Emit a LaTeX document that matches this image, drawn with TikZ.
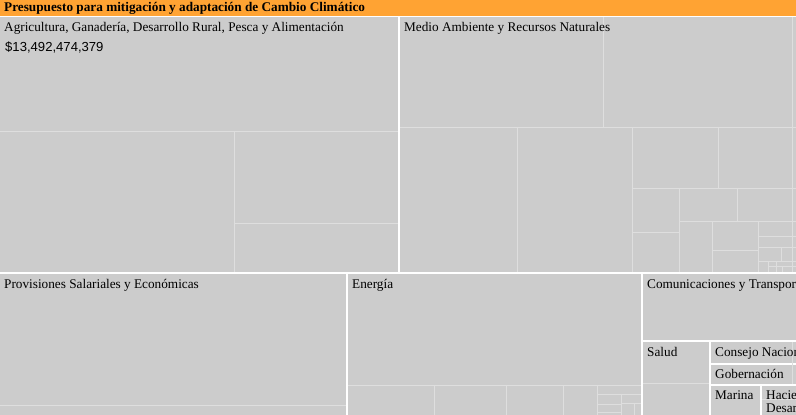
\documentclass[tikz,border=0pt]{standalone}
\usepackage{fontspec}
\setmainfont{Liberation Serif}
\newfontfamily\valfont{Liberation Sans}
\definecolor{cell}{HTML}{CCCCCC}
\definecolor{inner}{HTML}{DEDEDE}
\definecolor{hdr}{HTML}{FFA333}
\tikzset{
  cellbox/.style={fill=cell, draw=none},
  innerline/.style={draw=inner, line width=1pt},
  lbl/.style={anchor=base west, inner sep=0pt, font=\fontsize{13.25}{15}\selectfont, text=black},
  ttl/.style={anchor=base west, inner sep=0pt, font=\fontsize{13.25}{15}\selectfont\bfseries, text=black},
  val/.style={anchor=base west, inner sep=0pt, font=\valfont\fontsize{13.1}{16}\selectfont, text=black}
}
\begin{document}
\begin{tikzpicture}[x=1pt,y=-1pt]
\useasboundingbox (0,0) rectangle (796,415);
\clip (0,0) rectangle (796,415);
\fill[white] (0,0) rectangle (796,415);
% header
\fill[hdr] (0,0) rectangle (796,15.5);
\node[ttl] (title) at (4,12) {Presupuesto para mitigación y adaptación de Cambio Climático};
% top-level cells
\fill[cellbox] (0,17) rectangle (398,272);
\fill[cellbox] (400,17) rectangle (800,272);
\fill[cellbox] (0,274) rectangle (346,415);
\fill[cellbox] (348,274) rectangle (641,415);
\fill[cellbox] (643,274) rectangle (800,340);
\fill[cellbox] (643,342) rectangle (709,415);
\fill[cellbox] (711,342) rectangle (800,363);
\fill[cellbox] (711,365) rectangle (800,384);
\fill[cellbox] (711,386) rectangle (760,415);
\fill[cellbox] (762,386) rectangle (800,415);
% Agricultura inner
\draw[innerline] (0,131) -- (398,131);
\draw[innerline] (234.5,131) -- (234.5,272);
\draw[innerline] (235,223) -- (398,223);
% Medio Ambiente inner
\draw[innerline] (603.5,17) -- (603.5,127.5);
\draw[innerline] (400,127.5) -- (796,127.5);
\draw[innerline] (517.5,127.5) -- (517.5,272);
\draw[innerline] (632.5,127.5) -- (632.5,272);
\draw[innerline] (718.5,127.5) -- (718.5,188);
\draw[innerline] (633,188) -- (796,188);
\draw[innerline] (679,188) -- (679,272);
\draw[innerline] (633,232) -- (679,232);
\draw[innerline] (679,221) -- (796,221);
\draw[innerline] (737,188) -- (737,221);
\draw[innerline] (712,221) -- (712,272);
\draw[innerline] (758,221) -- (758,272);
\draw[innerline] (712,250) -- (758,250);
\draw[innerline] (758,236) -- (796,236);
\draw[innerline] (758,247) -- (796,247);
\draw[innerline] (781,247) -- (781,261);
\draw[innerline] (758,261) -- (796,261);
\draw[innerline] (768.5,261) -- (768.5,272);
\draw[innerline] (776,261) -- (776,272);
\draw[innerline] (782,266) -- (782,272);
\draw[innerline] (769,266) -- (796,266);
\draw[innerline] (792.5,17) -- (792.5,272);
% Provisiones inner
\draw[innerline] (0,405) -- (346,405);
% Energia inner
\draw[innerline] (348,385) -- (641,385);
\draw[innerline] (434,385) -- (434,415);
\draw[innerline] (506,385) -- (506,415);
\draw[innerline] (563,385) -- (563,415);
\draw[innerline] (597.5,385) -- (597.5,415);
\draw[innerline] (598,394.5) -- (641,394.5);
\draw[innerline] (621.5,394.5) -- (621.5,415);
\draw[innerline] (598,404) -- (621.5,404);
\draw[innerline] (622,403) -- (641,403);
\draw[innerline] (634,403) -- (634,415);
\draw[innerline] (598,412) -- (621.5,412);
% Salud inner
\draw[innerline] (643,383) -- (709,383);
% right column inner
\draw[innerline] (792.5,342) -- (792.5,384);
\draw[innerline] (762,399.5) -- (796,399.5);
% labels
\node[lbl] (agri) at (4,31) {Agricultura, Ganadería, Desarrollo Rural, Pesca y Alimentación};
\node[val] (agrival) at (5,51) {\$13,492,474,379};
\node[lbl] (medio) at (404,31) {Medio Ambiente y Recursos Naturales};
\node[lbl] (prov) at (4,288.5) {Provisiones Salariales y Económicas};
\node[lbl] (ener) at (352,288.5) {Energía};
\node[lbl] (comu) at (647,288.5) {Comunicaciones y Transportes};
\node[lbl] (salud) at (647,356) {Salud};
\node[lbl] (conse) at (715,356) {Consejo Nacional};
\node[lbl] (gober) at (715,378.5) {Gobernación};
\node[lbl] (marina) at (715,399.5) {Marina};
\node[lbl] (hacie) at (766,399.5) {Hacienda};
\node[lbl] (desa) at (766,412) {Desarrollo};
\end{tikzpicture}
\end{document}
